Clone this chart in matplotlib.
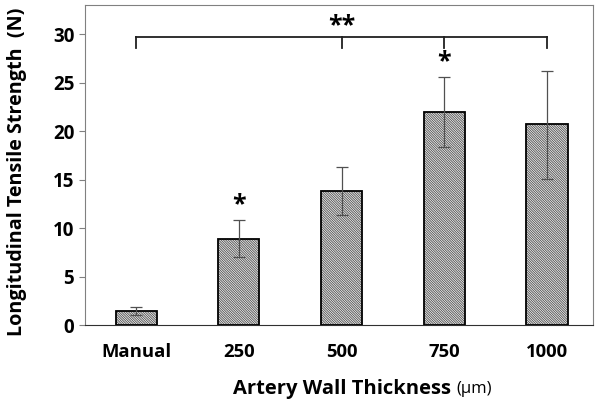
import matplotlib
matplotlib.use('Agg')
import matplotlib.pyplot as plt
import numpy as np

plt.rcParams['font.family'] = ['Open Sans', 'DejaVu Sans']
plt.rcParams['hatch.linewidth'] = 0.7

groups = ['Manual', '250', '500', '750', '1000']
means = [1.45, 8.9, 13.8, 22.0, 20.7]
err_low = [0.4, 1.9, 2.4, 3.6, 5.6]
err_high = [0.4, 1.9, 2.5, 3.6, 5.5]
star_groups = [1, 3]
bracket_groups = [0, 2, 3, 4]

fig = plt.figure(figsize=(6.01, 4.09), dpi=100)
ax = fig.add_axes([0.141, 0.205, 0.846, 0.783])

x = np.arange(len(groups))
# hatched fill, then black outline on top
ax.bar(x, means, width=0.4, color='white', edgecolor='#5a5a5a', linewidth=0,
       hatch='\\' * 14, zorder=2)
ax.bar(x, means, width=0.4, fill=False, edgecolor='black', linewidth=1.3, zorder=2)
ax.errorbar(x, means, yerr=[err_low, err_high], fmt='none', ecolor='#505050',
            elinewidth=0.9, capsize=4, capthick=0.9, zorder=3)

# significance marks
for i in star_groups:
    ax.text(x[i], means[i] + err_high[i] + 0.3, '*', ha='center', va='bottom',
            fontsize=18, fontweight='bold')
ax.plot([x[0], x[-1]], [29.7, 29.7], color='#202020', lw=1.3, zorder=3)
for i in bracket_groups:
    ax.plot([x[i], x[i]], [29.7, 28.6], color='#202020', lw=1.3, zorder=3)
ax.text(x[2], 29.6, '**', ha='center', va='bottom', fontsize=18, fontweight='bold')

ax.set_xlim(-0.5, 4.45)
ax.set_ylim(0, 33)
ax.set_yticks([0, 5, 10, 15, 20, 25, 30])
ax.set_xticks(x)
ax.set_xticklabels(groups)
ax.tick_params(axis='x', length=0, pad=13, labelsize=13.3)
ax.tick_params(axis='y', length=4, direction='out', labelsize=13.5, color='#808080')
for lab in ax.get_xticklabels() + ax.get_yticklabels():
    lab.set_fontweight('bold')
for side in ['top', 'right', 'left']:
    ax.spines[side].set_color('#808080')
ax.spines['bottom'].set_color('#303030')

fig.text(0.028, 0.58, 'Longitudinal Tensile Strength  (N)', rotation=90,
         ha='center', va='center', fontsize=14.2, fontweight='bold')
xl = fig.text(0.573, 0.049, 'Artery Wall Thickness ', ha='center', va='center',
              fontsize=14.5, fontweight='bold')
ax.annotate('(\u03bcm)', xy=(1, 0.5), xycoords=xl, va='center', ha='left',
            fontsize=12)

fig.savefig('out.png', dpi=100)
